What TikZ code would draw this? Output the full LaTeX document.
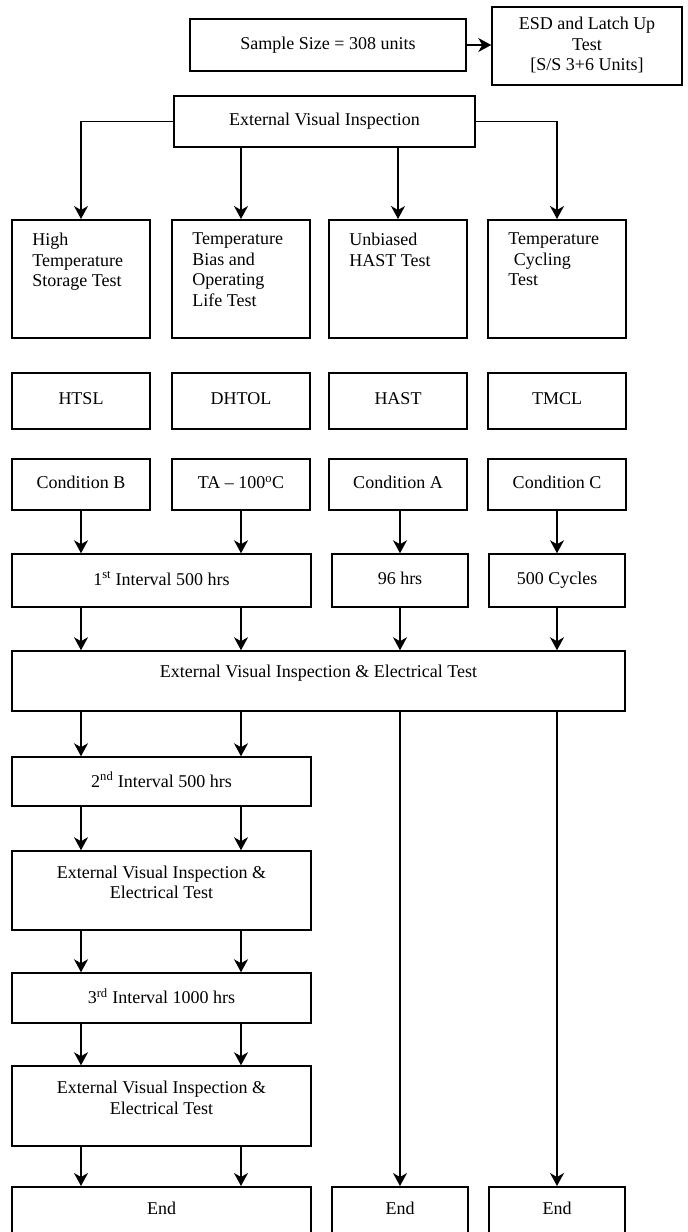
\documentclass[tikz,border=0pt]{standalone}
\usepackage{fontspec}
\setmainfont{Liberation Serif}
\usetikzlibrary{arrows.meta}

\begin{document}
\begin{tikzpicture}[x=1pt, y=-1pt,
    every node/.style={font=\fontsize{18}{20.5}\selectfont},
    box/.style={draw, line width=1.5pt, inner sep=0pt, align=center, text depth=4pt},
    txt/.style={inner sep=0pt, align=center},
    arr/.style={-{Stealth[length=13pt, width=14pt, inset=4pt]}, line width=1.4pt}]
    \useasboundingbox (0,0) rectangle (688,1232);
    \clip (0,0) rectangle (688,1232);

    % top
    \node[box, minimum width=276, minimum height=52] (sample) at (328,45) {Sample Size = 308 units};
    \node[box, minimum width=190, minimum height=78] (esd) at (587,46) {ESD and Latch Up\\Test\\{[}S/S 3+6 Units{]}};
    \draw[arr] (sample.east) -- (esd.west |- sample.east);
    \node[box, minimum width=301, minimum height=51] (evi) at (324.5,121.5) {External Visual Inspection};

    % test types
    \node[box, minimum width=138, minimum height=118, anchor=north] (htst) at (81,219) {};
    \node[box, minimum width=138, minimum height=118, anchor=north] (tbol) at (241,219) {};
    \node[box, minimum width=138, minimum height=118, anchor=north] (uhast) at (398,219) {};
    \node[box, minimum width=138, minimum height=118, anchor=north] (tcyc) at (557,219) {};
    \node[txt, align=left, anchor=north west] (htst-t) at ([xshift=21pt, yshift=-14pt]htst.north west) {High\\Temperature\\Storage Test};
    \node[txt, align=left, anchor=north west] (tbol-t) at ([xshift=21pt, yshift=-14pt]tbol.north west) {Temperature\\Bias and\\Operating\\Life Test};
    \node[txt, align=left, anchor=north west] (uhast-t) at ([xshift=21pt, yshift=-14pt]uhast.north west) {Unbiased\\HAST Test};
    \node[txt, align=left, anchor=north west] (tcyc-t) at ([xshift=21pt, yshift=-14pt]tcyc.north west) {Temperature\\\hspace*{0.3em}Cycling\\Test};

    \draw[arr] (evi.west) -| (htst.north);
    \draw[arr] (evi.south -| tbol.north) -- (tbol.north);
    \draw[arr] (evi.south -| uhast.north) -- (uhast.north);
    \draw[arr] (evi.east) -| (tcyc.north);

    % codes
    \node[box, minimum width=138, minimum height=56] (htsl) at (81,401) {HTSL};
    \node[box, minimum width=138, minimum height=56] (dhtol) at (241,401) {DHTOL};
    \node[box, minimum width=138, minimum height=56] (hast) at (398,401) {HAST};
    \node[box, minimum width=138, minimum height=56] (tmcl) at (557,401) {TMCL};

    % conditions
    \node[box, minimum width=138, minimum height=51] (condb) at (81,484.5) {Condition B};
    \node[box, minimum width=138, minimum height=51] (ta) at (241,484.5) {TA – 100\textsuperscript{o}C};
    \node[box, minimum width=138, minimum height=51] (conda) at (398,484.5) {Condition A};
    \node[box, minimum width=138, minimum height=51] (condc) at (557,484.5) {Condition C};

    % first interval
    \node[box, minimum width=299, minimum height=53] (int1) at (161.5,580.5) {1\textsuperscript{st} Interval 500 hrs};
    \node[box, minimum width=136, minimum height=53] (h96) at (400,580.5) {96 hrs};
    \node[box, minimum width=136, minimum height=53] (c500) at (557,580.5) {500 Cycles};
    \draw[arr] (condb.south) -- (condb.south |- int1.north);
    \draw[arr] (ta.south) -- (ta.south |- int1.north);
    \draw[arr] (h96.north |- conda.south) -- (h96.north);
    \draw[arr] (condc.south) -- (condc.south |- c500.north);

    \node[box, minimum width=613, minimum height=60] (evet1) at (318.5,681) {};
    \node[txt] (evet1-t) at ([yshift=8pt]evet1.center) {External Visual Inspection \& Electrical Test};
    \draw[arr] (int1.south -| condb.south) -- (condb.south |- evet1.north);
    \draw[arr] (int1.south -| ta.south) -- (ta.south |- evet1.north);
    \draw[arr] (h96.south) -- (h96.south |- evet1.north);
    \draw[arr] (c500.south) -- (c500.south |- evet1.north);

    % left branch
    \node[box, minimum width=299, minimum height=49] (int2) at (161.5,781.5) {2\textsuperscript{nd} Interval 500 hrs};
    \node[box, minimum width=299, minimum height=79] (evet2) at (161.5,890.5) {};
    \node[txt] (evet2-t) at ([yshift=8pt]evet2.center) {External Visual Inspection \&\\Electrical Test};
    \node[box, minimum width=299, minimum height=50] (int3) at (161.5,998) {3\textsuperscript{rd} Interval 1000 hrs};
    \node[box, minimum width=299, minimum height=80] (evet3) at (161.5,1106) {};
    \node[txt] (evet3-t) at ([yshift=8pt]evet3.center) {External Visual Inspection \&\\Electrical Test};

    % end
    \node[box, minimum width=299, minimum height=80, anchor=north] (end1) at (161.5,1186) {};
    \node[box, minimum width=136, minimum height=80, anchor=north] (end2) at (400,1186) {};
    \node[box, minimum width=136, minimum height=80, anchor=north] (end3) at (557,1186) {};
    \node[txt] (end1-t) at ([yshift=-22pt]end1.north) {End};
    \node[txt] (end2-t) at ([yshift=-22pt]end2.north) {End};
    \node[txt] (end3-t) at ([yshift=-22pt]end3.north) {End};

    \draw[arr] (evet1.south -| condb.south) -- (condb.south |- int2.north);
    \draw[arr] (evet1.south -| ta.south) -- (ta.south |- int2.north);
    \draw[arr] (int2.south -| condb.south) -- (condb.south |- evet2.north);
    \draw[arr] (int2.south -| ta.south) -- (ta.south |- evet2.north);
    \draw[arr] (evet2.south -| condb.south) -- (condb.south |- int3.north);
    \draw[arr] (evet2.south -| ta.south) -- (ta.south |- int3.north);
    \draw[arr] (int3.south -| condb.south) -- (condb.south |- evet3.north);
    \draw[arr] (int3.south -| ta.south) -- (ta.south |- evet3.north);
    \draw[arr] (evet3.south -| condb.south) -- (condb.south |- end1.north);
    \draw[arr] (evet3.south -| ta.south) -- (ta.south |- end1.north);
    \draw[arr] (evet1.south -| h96.south) -- (h96.south |- end2.north);
    \draw[arr] (evet1.south -| c500.south) -- (c500.south |- end3.north);
\end{tikzpicture}
\end{document}
